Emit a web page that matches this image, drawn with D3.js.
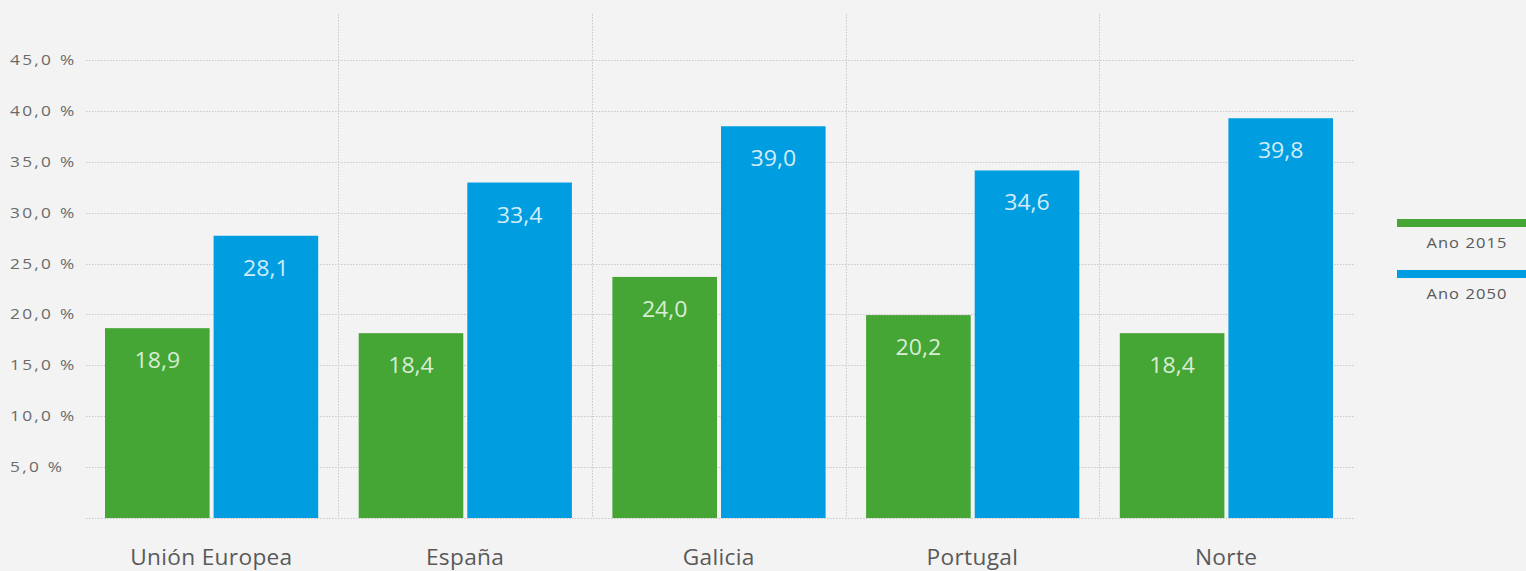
<!DOCTYPE html>
<html>
<head>
<meta charset="utf-8">
<script src="https://cdn.jsdelivr.net/npm/d3@7"></script>
<style>
  body { margin: 0; background: #f3f3f3; }
  svg { display: block; font-family: "Open Sans", sans-serif; }
</style>
</head>
<body>
<svg id="chart" width="1526" height="571"></svg>
<script>
// data
const regions = ["Unión Europea", "España", "Galicia", "Portugal", "Norte"];
const series = ["Ano 2015", "Ano 2050"];
const values2015 = [18.9, 18.4, 24.0, 20.2, 18.4];
const values2050 = [28.1, 33.4, 39.0, 34.6, 39.8];
const yTicks = [5, 10, 15, 20, 25, 30, 35, 40, 45];
const colors = ["#45a535", "#009ee0"];

const svg = d3.select("#chart");
const width = 1526, height = 571;

const margin = { left: 84.5, right: 173, top: 14, bottom: 53 };

const x = d3.scaleBand()
            .domain(regions)
            .range([margin.left, width - margin.right])
            .paddingInner(0)
            .paddingOuter(0);

const xInner = d3.scaleBand()
                 .domain(series)
                 .range([20.5, x.bandwidth() - 20])
                 .paddingInner(0.037);

// grid scale, and the bars which sit a touch lower in the original
const y = d3.scaleLinear()
            .domain([0, 45])
            .range([height - margin.bottom, 60]);
const yBar = d3.scaleLinear()
            .domain([0, 45])
            .range([height - margin.bottom, 66]);

const fmt = v => v.toFixed(1).replace(".", ",");

// horizontal dotted grid
svg.append("g")
   .selectAll("line")
   .data([0].concat(yTicks))
   .join("line")
   .attr("x1", 86)
   .attr("x2", 1355)
   .attr("y1", d => Math.round(y(d)) + 0.5)
   .attr("y2", d => Math.round(y(d)) + 0.5)
   .attr("stroke", "#c8c8c8")
   .attr("stroke-dasharray", "1.5,1.5");

// vertical separators between regions
svg.append("g")
   .selectAll("line")
   .data(regions.slice(1))
   .join("line")
   .attr("x1", d => Math.round(x(d)) + 0.5)
   .attr("x2", d => Math.round(x(d)) + 0.5)
   .attr("y1", margin.top)
   .attr("y2", y(0))
   .attr("stroke", "#c8c8c8")
   .attr("stroke-dasharray", "1.5,1.5");

// y labels (the original text is a bit stretched sideways)
svg.append("g")
   .selectAll("text")
   .data(yTicks)
   .join("text")
   .attr("transform", d => `translate(10,${y(d) + 5}) scale(1.15,1)`)
   .attr("font-size", 15)
   .attr("letter-spacing", 2)
   .attr("fill", "#6a6a6a")
   .text(d => fmt(d) + " %");

// bars
const groups = svg.append("g")
   .selectAll("g")
   .data(regions.map((r, i) => ({ region: r, vals: [values2015[i], values2050[i]] })))
   .join("g")
   .attr("transform", d => `translate(${x(d.region)},0)`);

groups.selectAll("rect")
   .data(d => d.vals.map((v, j) => ({ key: series[j], v, j })))
   .join("rect")
   .attr("x", d => xInner(d.key))
   .attr("width", xInner.bandwidth())
   .attr("y", d => yBar(d.v))
   .attr("height", d => yBar(0) - yBar(d.v))
   .attr("fill", d => colors[d.j]);

groups.selectAll("text.val")
   .data(d => d.vals.map((v, j) => ({ key: series[j], v, j })))
   .join("text")
   .attr("class", "val")
   .attr("transform", d => `translate(${xInner(d.key) + xInner.bandwidth() / 2},${yBar(d.v) + 40}) scale(1.05,1)`)
   .attr("text-anchor", "middle")
   .attr("font-size", 22)
   .attr("fill", d => d.j === 0 ? "#d9edd5" : "#d3ecf9")
   .text(d => fmt(d.v));

// x labels
svg.append("g")
   .selectAll("text")
   .data(regions)
   .join("text")
   .attr("transform", d => `translate(${x(d) + x.bandwidth() / 2},565) scale(1.08,1)`)
   .attr("text-anchor", "middle")
   .attr("font-size", 21)
   .attr("letter-spacing", 0.3)
   .attr("fill", "#595959")
   .text(d => d);

// legend
const legend = svg.append("g")
   .selectAll("g")
   .data(series)
   .join("g")
   .attr("transform", (d, i) => `translate(1397,${219 + i * 51})`);

legend.append("rect")
   .attr("width", 129)
   .attr("height", 8)
   .attr("fill", (d, i) => colors[i]);

legend.append("text")
   .attr("transform", "translate(70,29) scale(1.1,1)")
   .attr("text-anchor", "middle")
   .attr("font-size", 15)
   .attr("letter-spacing", 1)
   .attr("fill", "#595959")
   .text(d => d);
</script>
</body>
</html>
